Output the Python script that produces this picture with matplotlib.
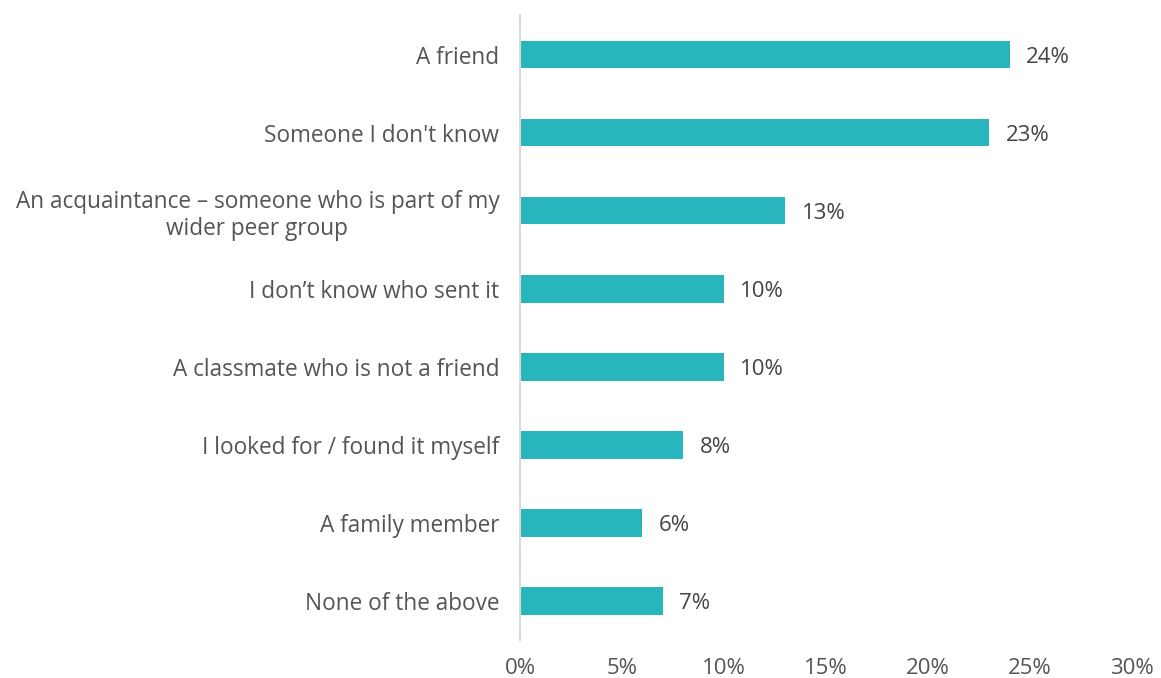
import matplotlib
matplotlib.use("Agg")
import matplotlib.pyplot as plt
from matplotlib.ticker import PercentFormatter

categories = [
    "A friend",
    "Someone I don't know",
    "An acquaintance \u2013 someone who is part of my\nwider peer group",
    "I don\u2019t know who sent it",
    "A classmate who is not a friend",
    "I looked for / found it myself",
    "A family member",
    "None of the above",
]
values = [24, 23, 13, 10, 10, 8, 6, 7]
xticks = [0, 5, 10, 15, 20, 25, 30]

BAR_COLOR = "#29B5BC"
TEXT_COLOR = "#555555"

plt.rcParams["font.family"] = ["Open Sans", "DejaVu Sans"]

fig = plt.figure(figsize=(11.61, 6.78), dpi=100)
ax = fig.add_axes([0.448, 0.056, 0.527, 0.922])

y = range(len(categories))
ax.barh(y, values, height=0.35, color=BAR_COLOR)
for yi, v in zip(y, values):
    ax.text(v + 0.8, yi, f"{v}%", va="center_baseline", ha="left", fontsize=16, color="#444444")

ax.set_ylim(len(categories) - 0.5, -0.51)
ax.set_xlim(0, 30)
ax.set_xticks(xticks)
ax.xaxis.set_major_formatter(PercentFormatter(decimals=0))
ax.set_yticks(list(y))
ax.set_yticklabels(categories, fontsize=16.3, color=TEXT_COLOR, ha="right")
ax.tick_params(axis="x", labelsize=16, labelcolor=TEXT_COLOR, length=0, pad=13)
ax.tick_params(axis="y", length=0, pad=15)
for lbl in ax.get_yticklabels():
    lbl.set_multialignment("center")
    lbl.set_linespacing(1.15)

for side in ["top", "right", "bottom"]:
    ax.spines[side].set_visible(False)
ax.spines["left"].set_color("#D9D9D9")
ax.spines["left"].set_linewidth(1.5)

fig.savefig("out.png", dpi=100)
